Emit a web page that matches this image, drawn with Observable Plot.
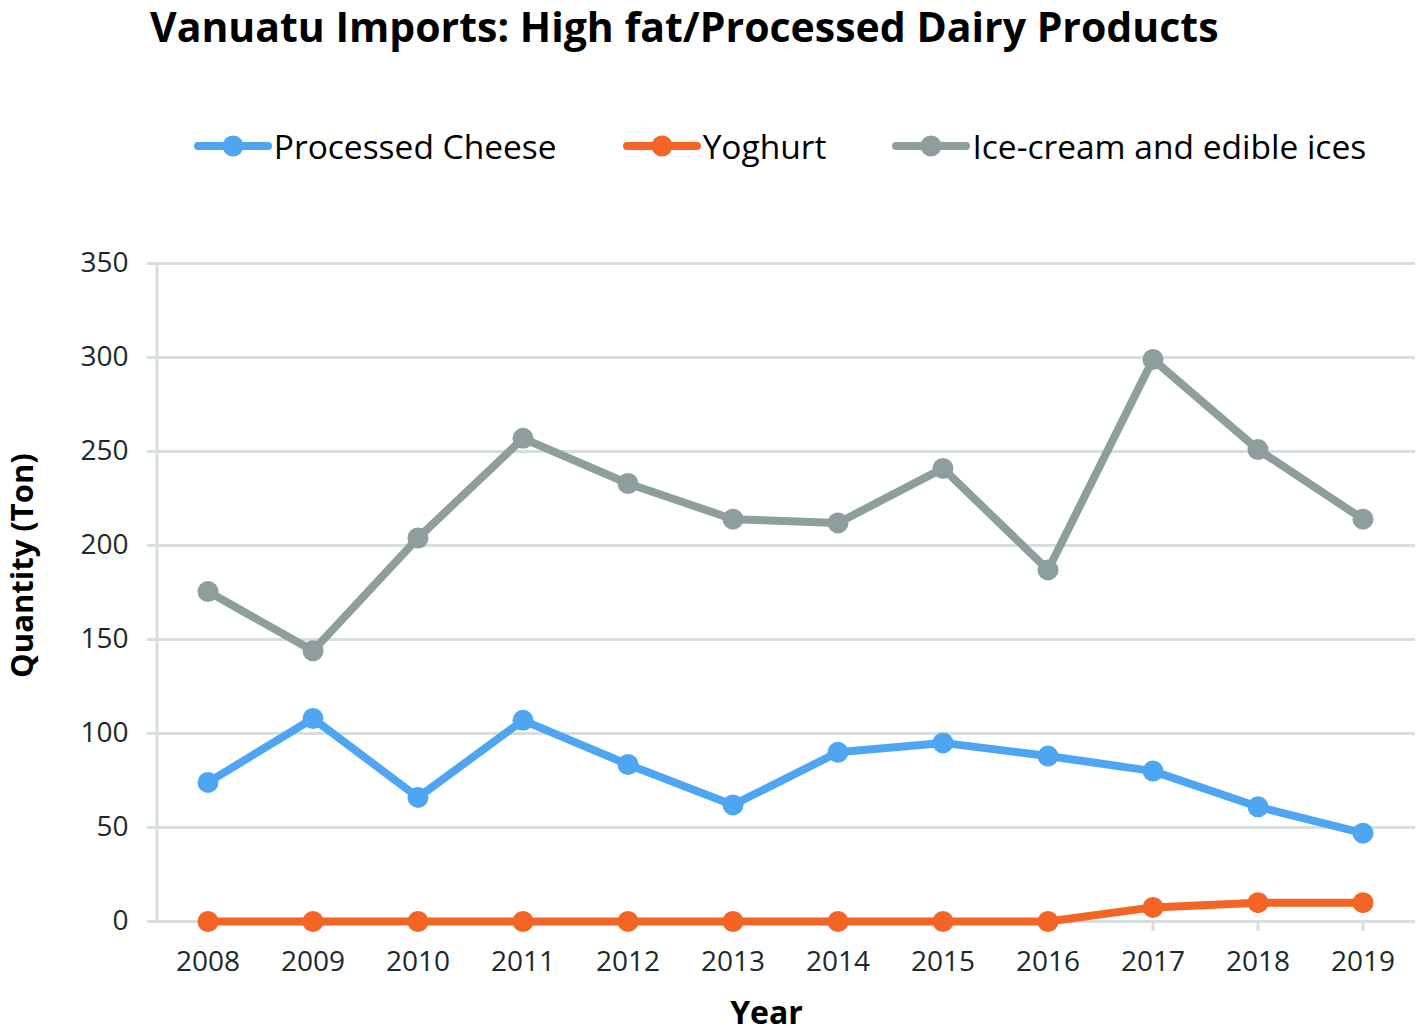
<!DOCTYPE html>
<html>
<head>
<meta charset="utf-8">
<script src="https://cdn.jsdelivr.net/npm/d3@7"></script>
<script src="https://cdn.jsdelivr.net/npm/@observablehq/plot@0.6"></script>
<style>
  html, body { margin: 0; padding: 0; background: #fff; }
  body { width: 1417px; height: 1034px; position: relative; overflow: hidden; font-family: "Open Sans", sans-serif; color: #1a2a2a; }
  #title { position: absolute; left: 150px; top: 4px; font-size: 41px; line-height: 44px; font-weight: 700; color: #000; white-space: nowrap; }
  #legend { position: absolute; top: 124px; left: 150px; width: 1260px; display: flex; justify-content: center; gap: 66px; align-items: center; }
  .item { display: flex; align-items: center; font-size: 33.5px; line-height: 44px; color: #000; white-space: nowrap; }
  .item svg { margin-right: 2px; }
  #chart { position: absolute; left: 0; top: 200px; }
</style>
</head>
<body>
<div id="title">Vanuatu Imports: High fat/Processed Dairy Products</div>
<div id="legend"></div>
<div id="chart"></div>
<script>
const years = ["2008","2009","2010","2011","2012","2013","2014","2015","2016","2017","2018","2019"];
const seriesNames = ["Processed Cheese", "Yoghurt", "Ice-cream and edible ices"];
const cheese = [74, 108, 66, 107, 83.5, 62, 90, 95, 88, 80, 61, 47];
const yoghurt = [0, 0, 0, 0, 0, 0, 0, 0, 0, 7.5, 10, 10];
const iceCream = [175.5, 144, 204, 257, 233, 214, 212, 241, 187, 299, 251, 214];
const yTicks = [0, 50, 100, 150, 200, 250, 300, 350];
const colors = ["#4ea6f2", "#f46424", "#8d9f9c"];

const allSeries = [cheese, yoghurt, iceCream];
const data = [];
seriesNames.forEach((name, s) => {
  years.forEach((yr, i) => data.push({series: name, year: yr, value: allSeries[s][i]}));
});

// legend
const legend = document.getElementById("legend");
seriesNames.forEach((name, i) => {
  const div = document.createElement("div");
  div.className = "item";
  div.innerHTML = `<svg width="78" height="26"><line x1="4" x2="74" y1="13" y2="13" stroke="${colors[i]}" stroke-width="8" stroke-linecap="round"/><circle cx="39" cy="13" r="10.5" fill="${colors[i]}"/></svg><span>${name}</span>`;
  legend.appendChild(div);
});

const gridColor = "#d6dfdd";
const plot = Plot.plot({
  width: 1417,
  height: 834,
  marginLeft: 155,
  marginRight: 2,
  marginTop: 63,
  marginBottom: 113,
  style: {fontFamily: "Open Sans, sans-serif", fontSize: "28px", color: "#1a2a2a", background: "white", overflow: "visible"},
  x: {type: "band", domain: years, padding: 0, label: null},
  y: {domain: [0, 350], ticks: yTicks, label: null},
  color: {domain: seriesNames, range: colors},
  marks: [
    Plot.ruleY(yTicks, {stroke: gridColor, strokeWidth: 3, insetLeft: -8}),
    Plot.ruleX([years[0]], {y1: 0, y2: 350, stroke: gridColor, strokeWidth: 3, dx: -51}),
    Plot.axisY(yTicks, {tickSize: 0, tickPadding: 27, fontSize: 28, fill: "#1a2a2a"}),
    Plot.axisX(years, {tickSize: 10, stroke: gridColor, strokeWidth: 3, tickPadding: 20, fontSize: 28, fill: "#1a2a2a"}),
    Plot.line(data, {x: "year", y: "value", z: "series", stroke: "series", strokeWidth: 8, strokeLinejoin: "round", strokeLinecap: "round"}),
    Plot.dot(data, {x: "year", y: "value", fill: "series", r: 10.5}),
    Plot.text(["Year"], {frameAnchor: "bottom", dx: -19, dy: 102, fontSize: 32, fontWeight: 700, fill: "#000", text: d => d}),
    Plot.text(["Quantity (Ton)"], {frameAnchor: "left", dx: -132, dy: -27, rotate: -90, textAnchor: "middle", fontSize: 31, fontWeight: 700, fill: "#000", text: d => d})
  ]
});
document.getElementById("chart").appendChild(plot);
</script>
</body>
</html>
